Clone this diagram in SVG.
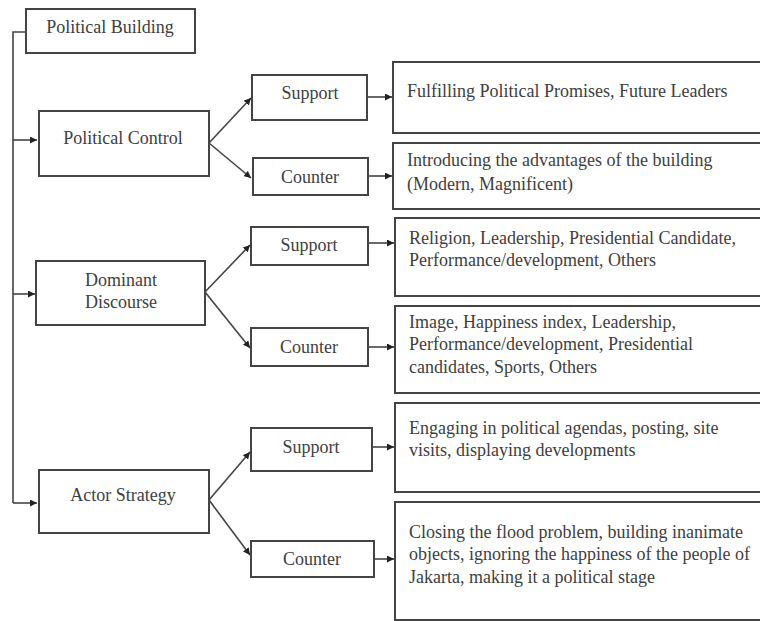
<svg xmlns="http://www.w3.org/2000/svg" width="760" height="621" viewBox="0 0 760 621" font-family="'Liberation Serif', 'Times New Roman', serif">
<style>
rect{fill:#fff;stroke:#444;stroke-width:2}
text{font-family:'Liberation Serif','Times New Roman',serif;font-size:18px;fill:#404040}
.c{text-anchor:middle}
.ln{fill:none;stroke:#444;stroke-width:1.6}
.ar{fill:none;stroke:#444;stroke-width:1.6;marker-end:url(#ah)}
</style>
<defs>
<marker id="ah" viewBox="0 0 10 10" refX="10" refY="5" markerWidth="7" markerHeight="7" markerUnits="userSpaceOnUse" orient="auto"><path d="M0,0 L10,5 L0,10 Z" fill="#222"/></marker>
</defs>
<rect x="0" y="0" width="760" height="621" style="fill:#fff;stroke:none"/>
<g id="connectors">
<polyline class="ln" points="26,32 13,32 13,503"/>
<line class="ar" x1="13" y1="140" x2="37" y2="140"/>
<line class="ar" x1="13" y1="294" x2="35" y2="294"/>
<line class="ar" x1="13" y1="503" x2="37" y2="503"/>
<line class="ar" x1="209" y1="143" x2="251" y2="98"/>
<line class="ar" x1="209" y1="143" x2="251" y2="178"/>
<line class="ar" x1="205" y1="292" x2="250" y2="245"/>
<line class="ar" x1="205" y1="292" x2="250" y2="348"/>
<line class="ar" x1="209" y1="500" x2="250" y2="452"/>
<line class="ar" x1="209" y1="500" x2="250" y2="555"/>
<line class="ar" x1="367" y1="97" x2="392" y2="97"/>
<line class="ar" x1="368" y1="176" x2="392" y2="176"/>
<line class="ar" x1="368" y1="243" x2="394" y2="243"/>
<line class="ar" x1="368" y1="347" x2="394" y2="347"/>
<line class="ar" x1="372" y1="447" x2="394" y2="447"/>
<line class="ar" x1="374" y1="559" x2="394" y2="559"/>
</g>
<g id="political-building"><rect x="26" y="9" width="169" height="44"/><text class="c" x="110" y="33">Political Building</text></g>
<g id="political-control"><rect x="39" y="111" width="170" height="65"/><text class="c" x="123" y="144">Political Control</text></g>
<g id="pc-support"><rect x="252" y="75" width="115" height="45"/><text class="c" x="310" y="99">Support</text></g>
<g id="pc-counter"><rect x="253" y="158" width="115" height="37"/><text class="c" x="310" y="183">Counter</text></g>
<g id="pc-support-detail"><rect x="393" y="62" width="372" height="71"/><text x="407" y="97">Fulfilling Political Promises, Future Leaders</text></g>
<g id="pc-counter-detail"><rect x="393" y="143" width="372" height="66"/><text x="407" y="166">Introducing the advantages of the building</text><text x="407" y="190">(Modern, Magnificent)</text></g>
<g id="dominant-discourse"><rect x="36" y="261" width="169" height="64"/><text class="c" x="121" y="286">Dominant</text><text class="c" x="121" y="308">Discourse</text></g>
<g id="dd-support"><rect x="251" y="227" width="117" height="38"/><text class="c" x="309" y="251">Support</text></g>
<g id="dd-counter"><rect x="251" y="328" width="117" height="38"/><text class="c" x="309" y="353">Counter</text></g>
<g id="dd-support-detail"><rect x="395" y="218" width="370" height="78"/><text x="409" y="244">Religion, Leadership, Presidential Candidate,</text><text x="409" y="266">Performance/development, Others</text></g>
<g id="dd-counter-detail"><rect x="395" y="306" width="370" height="87"/><text x="409" y="328">Image, Happiness index, Leadership,</text><text x="409" y="350">Performance/development, Presidential</text><text x="409" y="373">candidates, Sports, Others</text></g>
<g id="actor-strategy"><rect x="39" y="470" width="170" height="63"/><text class="c" x="123" y="501">Actor Strategy</text></g>
<g id="as-support"><rect x="251" y="428" width="121" height="43"/><text class="c" x="311" y="453">Support</text></g>
<g id="as-counter"><rect x="251" y="541" width="123" height="36"/><text class="c" x="312" y="565">Counter</text></g>
<g id="as-support-detail"><rect x="395" y="403" width="370" height="89"/><text x="409" y="434">Engaging in political agendas, posting, site</text><text x="409" y="456">visits, displaying developments</text></g>
<g id="as-counter-detail"><rect x="395" y="502" width="370" height="118"/><text x="409" y="538">Closing the flood problem, building inanimate</text><text x="409" y="560">objects, ignoring the happiness of the people of</text><text x="409" y="583">Jakarta, making it a political stage</text></g>
</svg>
